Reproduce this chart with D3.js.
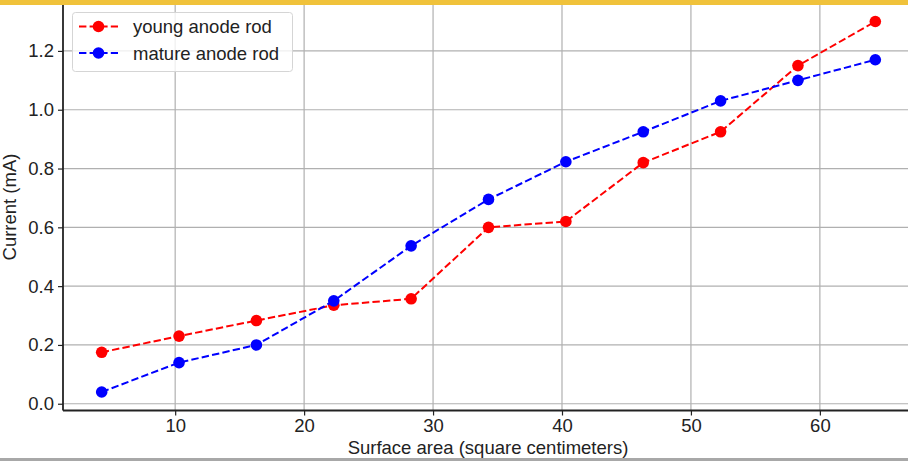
<!DOCTYPE html>
<html>
<head>
<meta charset="utf-8">
<script src="https://cdn.jsdelivr.net/npm/d3@7"></script>
<style>
  body { margin: 0; background: #fff; }
  svg { display: block; font-family: "Liberation Sans", Arial, sans-serif; }
</style>
</head>
<body>
<svg id="chart"></svg>
<script>
// data
var surfaceArea = [4.3, 10.3, 16.3, 22.3, 28.3, 34.3, 40.3, 46.3, 52.3, 58.3, 64.3];
var youngRod = [0.175, 0.23, 0.283, 0.335, 0.357, 0.60, 0.62, 0.82, 0.925, 1.15, 1.30];
var matureRod = [0.04, 0.14, 0.20, 0.35, 0.537, 0.695, 0.823, 0.925, 1.03, 1.10, 1.17];
var xTicks = [10, 20, 30, 40, 50, 60];
var yTicks = [0.0, 0.2, 0.4, 0.6, 0.8, 1.0, 1.2];
var seriesNames = ['young anode rod', 'mature anode rod'];
var seriesColors = ['#ff0000', '#0000ff'];

var W = 908, H = 461;
var svg = d3.select('#chart').attr('width', W).attr('height', H);

// plot area (don't call these top/left at global scope, window.top is taken)
var pLeft = 63, pRight = 914, pTop = 3, pBottom = 410.5;
var fs = 18.5;

var x = d3.scaleLinear().domain([1.3, 67.3]).range([pLeft, pRight]);
var y = d3.scaleLinear().domain([-0.023, 1.363]).range([pBottom, pTop]);

var g = svg.append('g');

// grid
g.selectAll('.xg').data(xTicks).enter().append('line')
    .attr('x1', function(d) { return x(d); }).attr('x2', function(d) { return x(d); })
    .attr('y1', pTop).attr('y2', pBottom)
    .attr('stroke', '#b0b0b0').attr('stroke-width', 1.2);
g.selectAll('.yg').data(yTicks).enter().append('line')
    .attr('y1', function(d) { return y(d); }).attr('y2', function(d) { return y(d); })
    .attr('x1', pLeft).attr('x2', pRight)
    .attr('stroke', '#b0b0b0').attr('stroke-width', 1.2);

// axes
var xAxis = d3.axisBottom(x).tickValues(xTicks).tickFormat(d3.format('d')).tickSize(5).tickPadding(3);
var yAxis = d3.axisLeft(y).tickValues(yTicks).tickFormat(d3.format('.1f')).tickSize(5).tickPadding(4);

var gx = g.append('g').attr('transform', 'translate(0,' + pBottom + ')').call(xAxis);
var gy = g.append('g').attr('transform', 'translate(' + pLeft + ',0)').call(yAxis);
[gx, gy].forEach(function(a) {
    a.attr('font-size', fs).attr('font-family', '"Liberation Sans", Arial, sans-serif');
    a.select('.domain').remove();
    a.selectAll('line').attr('stroke', '#222').attr('stroke-width', 1.2);
    a.selectAll('text').attr('fill', '#222');
});

// spines
g.append('line').attr('x1', pLeft).attr('x2', pLeft).attr('y1', pTop).attr('y2', pBottom)
    .attr('stroke', '#222').attr('stroke-width', 1.8);
g.append('line').attr('x1', pLeft).attr('x2', pRight).attr('y1', pBottom).attr('y2', pBottom)
    .attr('stroke', '#222').attr('stroke-width', 1.8);

// series
var line = d3.line()
    .x(function(d) { return x(d[0]); })
    .y(function(d) { return y(d[1]); });

[youngRod, matureRod].forEach(function(vals, i) {
    var pts = surfaceArea.map(function(s, j) { return [s, vals[j]]; });
    g.append('path').datum(pts)
        .attr('d', line)
        .attr('fill', 'none')
        .attr('stroke', seriesColors[i])
        .attr('stroke-width', 2)
        .attr('stroke-dasharray', '7.4,3.2');
    g.selectAll('.m' + i).data(pts).enter().append('circle')
        .attr('cx', function(d) { return x(d[0]); })
        .attr('cy', function(d) { return y(d[1]); })
        .attr('r', 5.8)
        .attr('fill', seriesColors[i]);
});

// axis labels
svg.append('text')
    .attr('x', 488).attr('y', 454)
    .attr('text-anchor', 'middle')
    .attr('font-size', fs).attr('fill', '#222')
    .text('Surface area (square centimeters)');
svg.append('text')
    .attr('transform', 'translate(16,' + 207 + ') rotate(-90)')
    .attr('text-anchor', 'middle')
    .attr('font-size', fs).attr('fill', '#222')
    .text('Current (mA)');

// legend
var lg = svg.append('g');
lg.append('rect').attr('x', 72.5).attr('y', 12.5).attr('width', 220).attr('height', 59)
    .attr('rx', 3).attr('fill', '#fff').attr('fill-opacity', 0.8)
    .attr('stroke', '#d5d5d5').attr('stroke-width', 1);
seriesNames.forEach(function(name, i) {
    var ly = 26.5 + i * 26.5;
    lg.append('line').attr('x1', 79).attr('x2', 118).attr('y1', ly).attr('y2', ly)
        .attr('stroke', seriesColors[i]).attr('stroke-width', 2).attr('stroke-dasharray', '7.4,3.2');
    lg.append('circle').attr('cx', 98.5).attr('cy', ly).attr('r', 5.8).attr('fill', seriesColors[i]);
    lg.append('text').attr('x', 133).attr('y', ly + 6.5)
        .attr('font-size', fs).attr('fill', '#222').text(name);
});

// screenshot frame: yellow strip at top, gray strip at bottom
svg.append('rect').attr('x', 0).attr('y', 0).attr('width', W).attr('height', 5).attr('fill', '#f0c23b');
svg.append('rect').attr('x', 0).attr('y', 458).attr('width', W).attr('height', 3).attr('fill', '#a8a8a8');
</script>
</body>
</html>
